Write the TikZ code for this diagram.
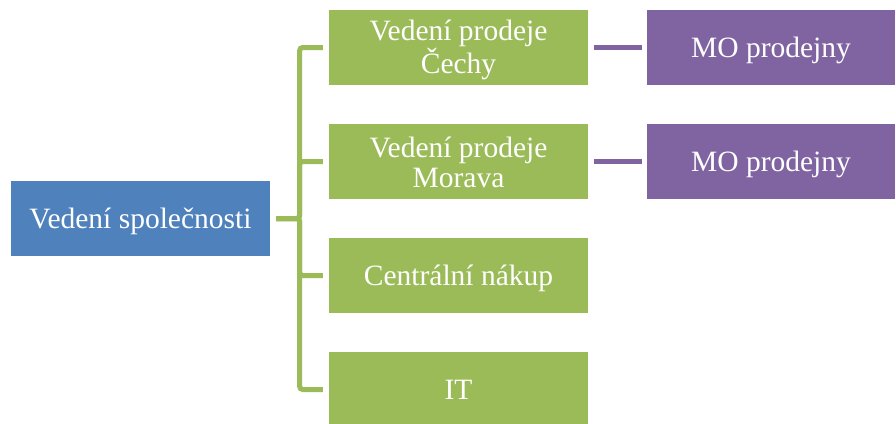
\documentclass[tikz,border=0pt]{standalone}
\usepackage{fontspec}
\setmainfont{Liberation Serif}
\definecolor{boxblue}{HTML}{4F81BD}
\definecolor{boxgreen}{HTML}{9BBB59}
\definecolor{boxpurple}{HTML}{8064A2}
\tikzset{
  orgbox/.style={rectangle, inner sep=0pt, text=white, align=center,
    font=\fontsize{29.5}{30}\selectfont, minimum height=75pt,
    text height=22pt, text depth=3pt},
  twoline/.style={text height=54pt, text depth=3pt},
  topbox/.style={orgbox, fill=boxblue, minimum width=259pt},
  deptbox/.style={orgbox, fill=boxgreen, minimum width=259pt},
  shopbox/.style={orgbox, fill=boxpurple, minimum width=248pt},
  gline/.style={draw=boxgreen, line width=5pt, rounded corners=3pt,
    shorten <=6pt, shorten >=6pt},
  pline/.style={draw=boxpurple, line width=5pt, shorten <=6pt, shorten >=5pt}
}
\begin{document}
\begin{tikzpicture}[x=1pt, y=-1pt]
  \clip (0,0) rectangle (896,423);
  % boxes
  \node[topbox] (top) at (140.5,218.5) {Vedení společnosti};
  \node[deptbox, twoline] (g1) at (458.5,47.5) {Vedení prodeje\\Čechy};
  \node[deptbox, twoline] (g2) at (458.5,161.5) {Vedení prodeje\\Morava};
  \node[deptbox] (g3) at (458.5,275.5) {Centrální nákup};
  \node[deptbox] (g4) at (458.5,389.5) {IT};
  \node[shopbox] (p1) at (771,47.5) {MO prodejny};
  \node[shopbox] (p2) at (771,161.5) {MO prodejny};
  % tree connectors
  \foreach \g in {g1,g2,g3,g4}
    \draw[gline] (top.east) -- ++(29.5,0) |- (\g.west);
  \draw[pline] (g1.east) -- (p1.west);
  \draw[pline] (g2.east) -- (p2.west);
\end{tikzpicture}
\end{document}
